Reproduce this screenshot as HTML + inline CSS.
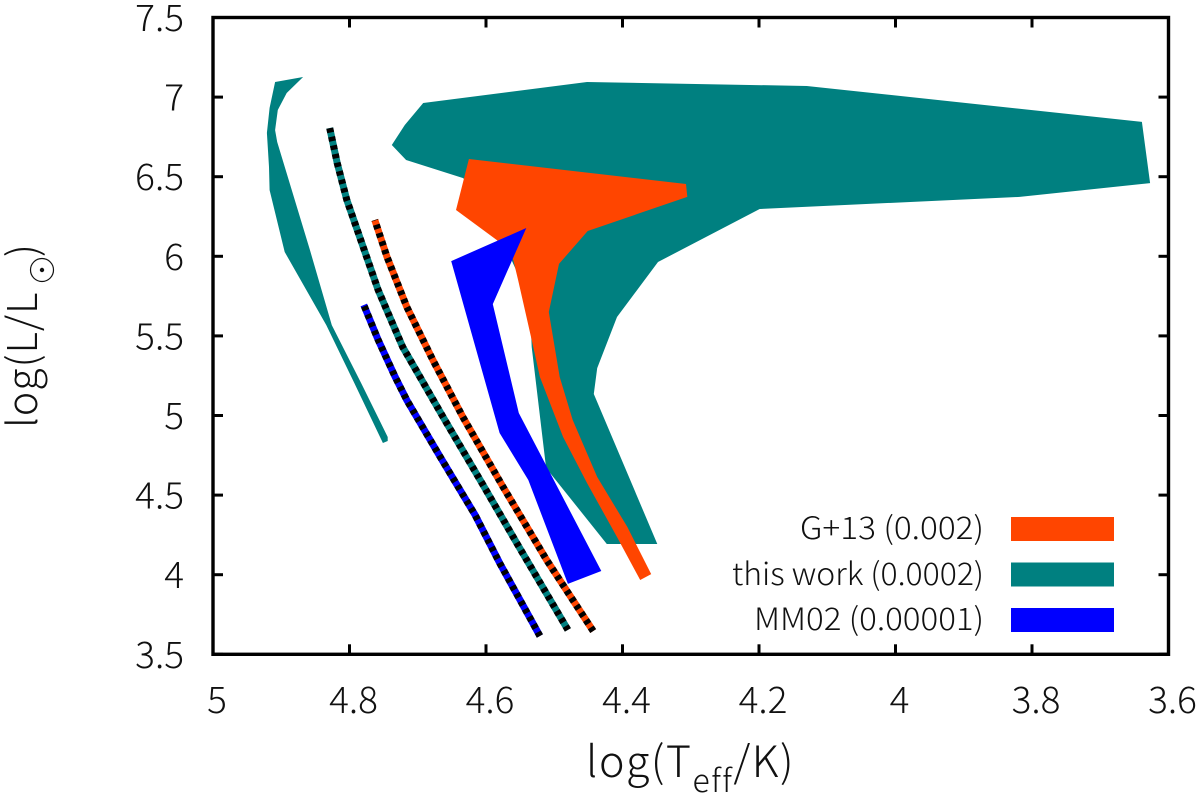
<!DOCTYPE html>
<html>
<head>
<meta charset="utf-8">
<style>
html,body{margin:0;padding:0;background:#fff;}
svg{display:block;}
text{font-family:"Noto Sans CJK JP","Liberation Sans",sans-serif;fill:#111;font-weight:300;}
</style>
</head>
<body>
<svg id="chart" xmlns="http://www.w3.org/2000/svg" width="1200" height="794" viewBox="0 0 1200 794">
  <g id="bands"></g>
  <g id="tracks"></g>
  <g id="axes"></g>
  <text x="586" y="777" font-size="43" letter-spacing="1.5">log(T<tspan font-size="32" dy="15">eff</tspan><tspan dy="-15">/K)</tspan></text>
  <g transform="translate(37,428) rotate(-90)">
    <text x="0" y="0" font-size="41" letter-spacing="1">log(L/L</text>
    <circle cx="158" cy="5" r="11.5" fill="none" stroke="#111" stroke-width="1.2"></circle>
    <circle cx="158" cy="5" r="2.2" fill="#111"></circle>
    <text x="171" y="0" font-size="41">)</text>
  </g>
  <g>
    <text x="984" y="539" font-size="31" text-anchor="end" textLength="184" lengthAdjust="spacingAndGlyphs">G+13 (0.002)</text>
    <rect x="1011" y="517" width="103" height="24" fill="#ff4500"></rect>
    <text x="984" y="585" font-size="31" text-anchor="end" textLength="252" lengthAdjust="spacingAndGlyphs">this work (0.0002)</text>
    <rect x="1011" y="562.5" width="103" height="24" fill="#008080"></rect>
    <text x="984" y="630" font-size="31" text-anchor="end" textLength="230" lengthAdjust="spacingAndGlyphs">MM02 (0.00001)</text>
    <rect x="1011" y="608" width="103" height="24" fill="#0000ff"></rect>
  </g>
</svg>
<script>
var xTicks = [5, 4.8, 4.6, 4.4, 4.2, 4, 3.8, 3.6];
var xTickLabels = ["5", "4.8", "4.6", "4.4", "4.2", "4", "3.8", "3.6"];
var yTicks = [3.5, 4, 4.5, 5, 5.5, 6, 6.5, 7, 7.5];
var yTickLabels = ["3.5", "4", "4.5", "5", "5.5", "6", "6.5", "7", "7.5"];

var thisWorkBandT = [4.692, 4.452, 4.130, 3.639, 3.627, 3.818, 4.199, 4.348, 4.408, 4.437, 4.442, 4.349, 4.423, 4.512, 4.533, 4.536, 4.609, 4.634, 4.717, 4.738, 4.719];
var thisWorkBandL = [6.963, 7.095, 7.070, 6.844, 6.460, 6.373, 6.297, 5.964, 5.619, 5.298, 5.135, 4.193, 4.193, 4.670, 5.430, 5.725, 6.416, 6.492, 6.605, 6.699, 6.825];

var hotBandT = [4.909, 4.868, 4.892, 4.905, 4.909, 4.906, 4.858, 4.826, 4.783, 4.744, 4.744, 4.751, 4.793, 4.834, 4.895, 4.917, 4.918, 4.921, 4.917];
var hotBandL = [7.095, 7.126, 7.026, 6.919, 6.793, 6.718, 6.040, 5.568, 5.204, 4.865, 4.840, 4.827, 5.204, 5.568, 6.027, 6.416, 6.561, 6.775, 6.932];

var g13BandT = [4.625, 4.307, 4.305, 4.451, 4.493, 4.508, 4.492, 4.473, 4.437, 4.393, 4.358, 4.374, 4.408, 4.452, 4.487, 4.521, 4.533, 4.553, 4.560, 4.584, 4.644];
var g13BandL = [6.611, 6.454, 6.373, 6.159, 5.952, 5.650, 5.242, 4.972, 4.614, 4.300, 4.004, 3.967, 4.237, 4.576, 4.865, 5.242, 5.474, 5.851, 5.977, 6.102, 6.291];

var mm02BandT = [4.541, 4.651, 4.580, 4.538, 4.480, 4.431, 4.552, 4.590];
var mm02BandL = [6.178, 5.970, 4.890, 4.595, 3.942, 4.023, 5.016, 5.700];

var thisWorkTrackT = [4.480, 4.555, 4.606, 4.663, 4.722, 4.758, 4.785, 4.804, 4.818, 4.829];
var thisWorkTrackL = [3.653, 4.199, 4.576, 4.991, 5.430, 5.788, 6.121, 6.354, 6.586, 6.806];

var g13TrackT = [4.443, 4.511, 4.575, 4.634, 4.678, 4.716, 4.745, 4.763];
var g13TrackL = [3.646, 4.092, 4.551, 4.991, 5.349, 5.682, 5.996, 6.228];

var mm02TrackT = [4.521, 4.580, 4.616, 4.667, 4.716, 4.733, 4.758, 4.779];
var mm02TrackL = [3.615, 4.074, 4.375, 4.739, 5.097, 5.242, 5.474, 5.694];

var NS = "http://www.w3.org/2000/svg";
var plotLeft = 213, plotRight = 1168.5, plotTop = 17.5, plotBottom = 654.3;

function xScale(t) { return plotLeft + (5 - t) / (5 - 3.6) * (plotRight - plotLeft); }
function yScale(l) { return plotTop + (7.5 - l) / (7.5 - 3.5) * (plotBottom - plotTop); }
function pointString(ts, ls) {
  return ts.map(function (t, i) { return xScale(t).toFixed(1) + "," + yScale(ls[i]).toFixed(1); }).join(" ");
}
function make(tag, parent, props) {
  var el = document.createElementNS(NS, tag);
  for (var k in props) { el.setAttribute(k, props[k]); }
  parent.appendChild(el);
  return el;
}

var bandsLayer = document.getElementById("bands");
var tracksLayer = document.getElementById("tracks");
var axesLayer = document.getElementById("axes");

var bandThisWork = make("polygon", bandsLayer, { points: pointString(thisWorkBandT, thisWorkBandL), fill: "#008080" });



var bandHot = make("polygon", bandsLayer, { points: pointString(hotBandT, hotBandL), fill: "#008080" });



var bandG13 = make("polygon", bandsLayer, { points: pointString(g13BandT, g13BandL), fill: "#ff4500" });



var bandMM02 = make("polygon", bandsLayer, { points: pointString(mm02BandT, mm02BandL), fill: "#0000ff" });



function drawTrack(ts, ls, color, parent) {
  var g = make("g", parent, {});
  make("polyline", g, { points: pointString(ts, ls), fill: "none", stroke: color, "stroke-width": 7 });
  make("polyline", g, { points: pointString(ts, ls), fill: "none", stroke: "#000", "stroke-width": 7, "stroke-dasharray": "4.4 4.4" });
  return g;
}

var trackThisWork = drawTrack(thisWorkTrackT, thisWorkTrackL, "#008080", tracksLayer);



var trackG13 = drawTrack(g13TrackT, g13TrackL, "#ff4500", tracksLayer);



var trackMM02 = drawTrack(mm02TrackT, mm02TrackL, "#0000ff", tracksLayer);



var frame = make("rect", axesLayer, { x: plotLeft, y: plotTop, width: plotRight - plotLeft, height: plotBottom - plotTop, fill: "none", stroke: "#000", "stroke-width": 3.4 });



xTicks.forEach(function (t, i) {
  var x = xScale(t);
  var tickBottom = make("line", axesLayer, { x1: x, x2: x, y1: plotBottom, y2: plotBottom - 10, stroke: "#000", "stroke-width": 3 });
  
  
  var tickTop = make("line", axesLayer, { x1: x, x2: x, y1: plotTop, y2: plotTop + 10, stroke: "#000", "stroke-width": 3 });
  
  
  var label = make("text", axesLayer, { x: x + 4, y: 713, "font-size": 37, "text-anchor": "middle" });
  label.textContent = xTickLabels[i];
  
  
});

yTicks.forEach(function (l, i) {
  var y = yScale(l);
  var tickLeft = make("line", axesLayer, { x1: plotLeft, x2: plotLeft + 10, y1: y, y2: y, stroke: "#000", "stroke-width": 3 });
  
  
  var tickRight = make("line", axesLayer, { x1: plotRight, x2: plotRight - 10, y1: y, y2: y, stroke: "#000", "stroke-width": 3 });
  
  
  var label = make("text", axesLayer, { x: 184, y: y + 13.5, "font-size": 37, "text-anchor": "end" });
  label.textContent = yTickLabels[i];
  
  
});
</script>
</body>
</html>
